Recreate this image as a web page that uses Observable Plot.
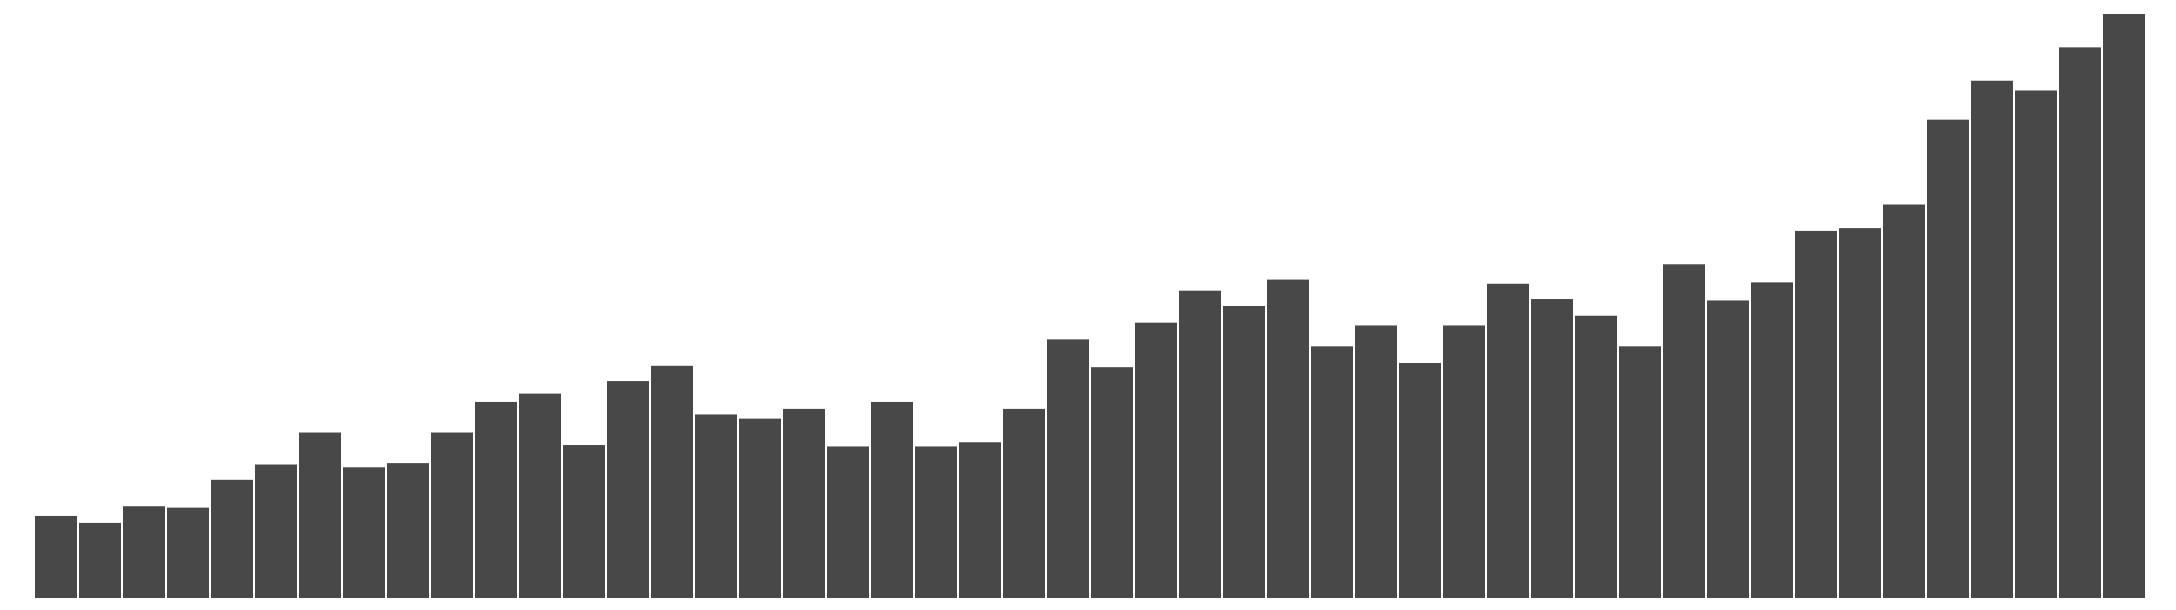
<!DOCTYPE html>
<html lang="en">
<head>
<meta charset="UTF-8">
<script src="https://cdn.jsdelivr.net/npm/d3@7"></script>
<script src="https://cdn.jsdelivr.net/npm/@observablehq/plot@0.6"></script>
<style>body{margin:0;background:#fff;}</style>
</head>
<body>
<div id="plot"></div>
<script>
const values = [59, 54, 66, 65, 85, 96, 119, 94, 97, 119, 141, 147, 110, 156, 167, 132,
  129, 136, 109, 141, 109, 112, 136, 186, 166, 198, 221, 210, 229, 181, 196, 169,
  196, 226, 215, 203, 181, 240, 214, 227, 264, 266, 283, 344, 372, 365, 396, 420];
const data = values.map((v, i) => ({i, v}));

const plot = Plot.plot({
  width: 2176,
  height: 610,
  marginTop: 14,
  marginBottom: 12,
  marginLeft: 23,
  marginRight: 18,
  x: {axis: null, padding: 0.04},
  y: {axis: null, domain: [0, 420]},
  marks: [
    Plot.barY(data, {x: "i", y: "v", fill: "#484848"})
  ]
});
document.querySelector("#plot").append(plot);
</script>
</body>
</html>
